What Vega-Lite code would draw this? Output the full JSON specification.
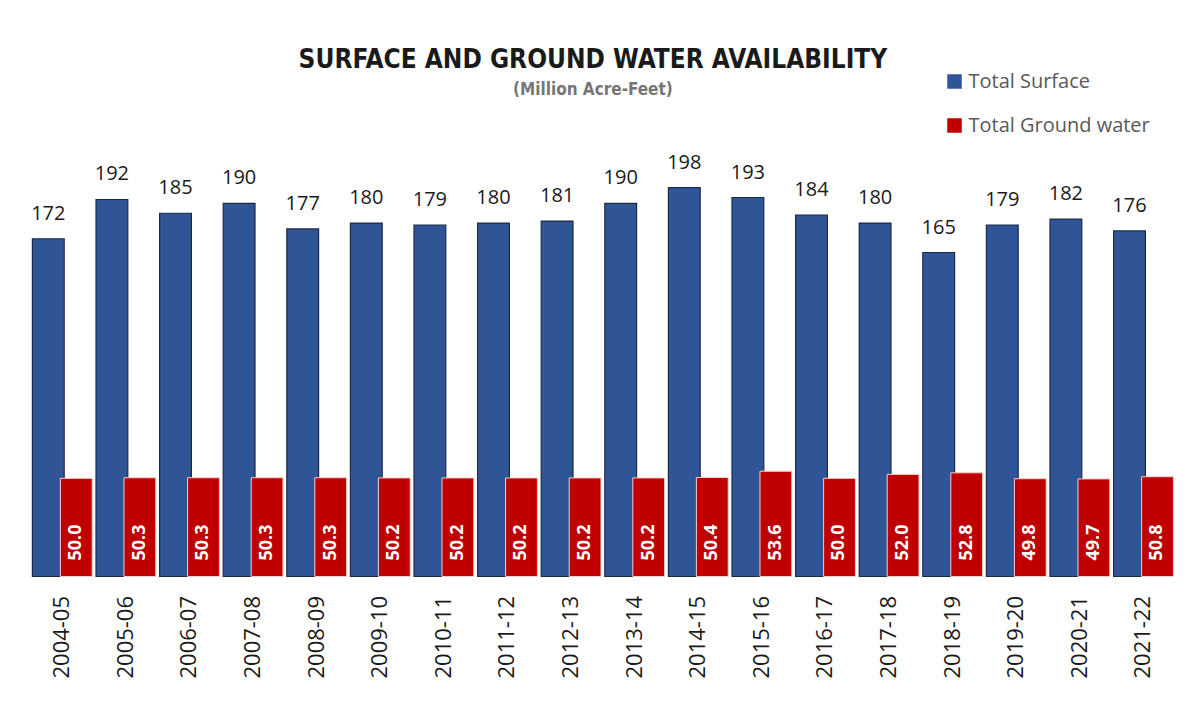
{
  "$schema": "https://vega.github.io/schema/vega-lite/v6.json",
  "autosize": {"type": "none"},
  "padding": {"left": 30.5, "top": 144.5, "right": 27, "bottom": 127},
  "width": 1144.8,
  "height": 432,
  "background": "#ffffff",
  "title": {
    "text": "SURFACE AND GROUND WATER AVAILABILITY",
    "subtitle": "(Million Acre-Feet)",
    "anchor": "middle",
    "frame": "group",
    "dx": -10,
    "offset": -26,
    "font": "DejaVu Sans Condensed, Roboto",
    "fontSize": 26,
    "fontWeight": "bold",
    "color": "#1a1a1a",
    "subtitleFont": "DejaVu Sans Condensed, Roboto",
    "subtitleFontSize": 17,
    "subtitleFontWeight": "bold",
    "subtitleColor": "#767676",
    "subtitlePadding": 9
  },
  "data": {
    "values": [
      {"year": "2004-05", "surface": 172, "ground": 50.0},
      {"year": "2005-06", "surface": 192, "ground": 50.3},
      {"year": "2006-07", "surface": 185, "ground": 50.3},
      {"year": "2007-08", "surface": 190, "ground": 50.3},
      {"year": "2008-09", "surface": 177, "ground": 50.3},
      {"year": "2009-10", "surface": 180, "ground": 50.2},
      {"year": "2010-11", "surface": 179, "ground": 50.2},
      {"year": "2011-12", "surface": 180, "ground": 50.2},
      {"year": "2012-13", "surface": 181, "ground": 50.2},
      {"year": "2013-14", "surface": 190, "ground": 50.2},
      {"year": "2014-15", "surface": 198, "ground": 50.4},
      {"year": "2015-16", "surface": 193, "ground": 53.6},
      {"year": "2016-17", "surface": 184, "ground": 50.0},
      {"year": "2017-18", "surface": 180, "ground": 52.0},
      {"year": "2018-19", "surface": 165, "ground": 52.8},
      {"year": "2019-20", "surface": 179, "ground": 49.8},
      {"year": "2020-21", "surface": 182, "ground": 49.7},
      {"year": "2021-22", "surface": 176, "ground": 50.8}
    ]
  },
  "encoding": {
    "x": {
      "field": "year",
      "type": "nominal",
      "sort": null,
      "scale": {"paddingInner": 0, "paddingOuter": 0},
      "axis": {
        "title": null,
        "domain": false,
        "ticks": false,
        "labelAngle": 270,
        "labelFont": "Open Sans",
        "labelFontSize": 22,
        "labelColor": "#1a1a1a",
        "labelPadding": 19
      }
    }
  },
  "layer": [
    {
      "mark": {"type": "bar", "width": {"band": 0.5}, "xOffset": -14, "stroke": "#1c2a4a", "strokeWidth": 1.2},
      "encoding": {
        "y": {"field": "surface", "type": "quantitative", "scale": {"domain": [0, 220], "nice": false}, "axis": null},
        "color": {
          "datum": "Total Surface",
          "scale": {"domain": ["Total Surface", "Total Ground water"], "range": ["#2F5597", "#C00000"]},
          "legend": {
            "title": null,
            "orient": "none",
            "legendX": 914,
            "legendY": -73,
            "symbolType": "square",
            "symbolSize": 210,
            "symbolStrokeWidth": 0,
            "labelFont": "Open Sans",
            "labelFontSize": 20,
            "labelColor": "#595959",
            "labelOffset": 4,
            "labelLimit": 400,
            "rowPadding": 24,
            "padding": 0
          }
        }
      }
    },
    {
      "mark": {"type": "bar", "width": {"band": 0.5}, "xOffset": 14, "stroke": "#f4d0d0", "strokeWidth": 1},
      "encoding": {
        "y": {"field": "ground", "type": "quantitative"},
        "color": {"datum": "Total Ground water"}
      }
    },
    {
      "mark": {"type": "text", "xOffset": -14, "dy": -19, "baseline": "alphabetic", "align": "center", "font": "Open Sans", "fontSize": 20, "color": "#1a1a1a"},
      "encoding": {
        "y": {"field": "surface", "type": "quantitative"},
        "text": {"field": "surface", "type": "quantitative", "format": "d"}
      }
    },
    {
      "mark": {"type": "text", "xOffset": 14, "angle": 270, "align": "left", "baseline": "middle", "dx": 16, "font": "Open Sans", "fontSize": 18, "fontWeight": "bold", "color": "#ffffff"},
      "encoding": {
        "y": {"datum": 0, "type": "quantitative"},
        "text": {"field": "ground", "type": "quantitative", "format": ".1f"}
      }
    }
  ],
  "config": {
    "view": {"stroke": null}
  }
}
